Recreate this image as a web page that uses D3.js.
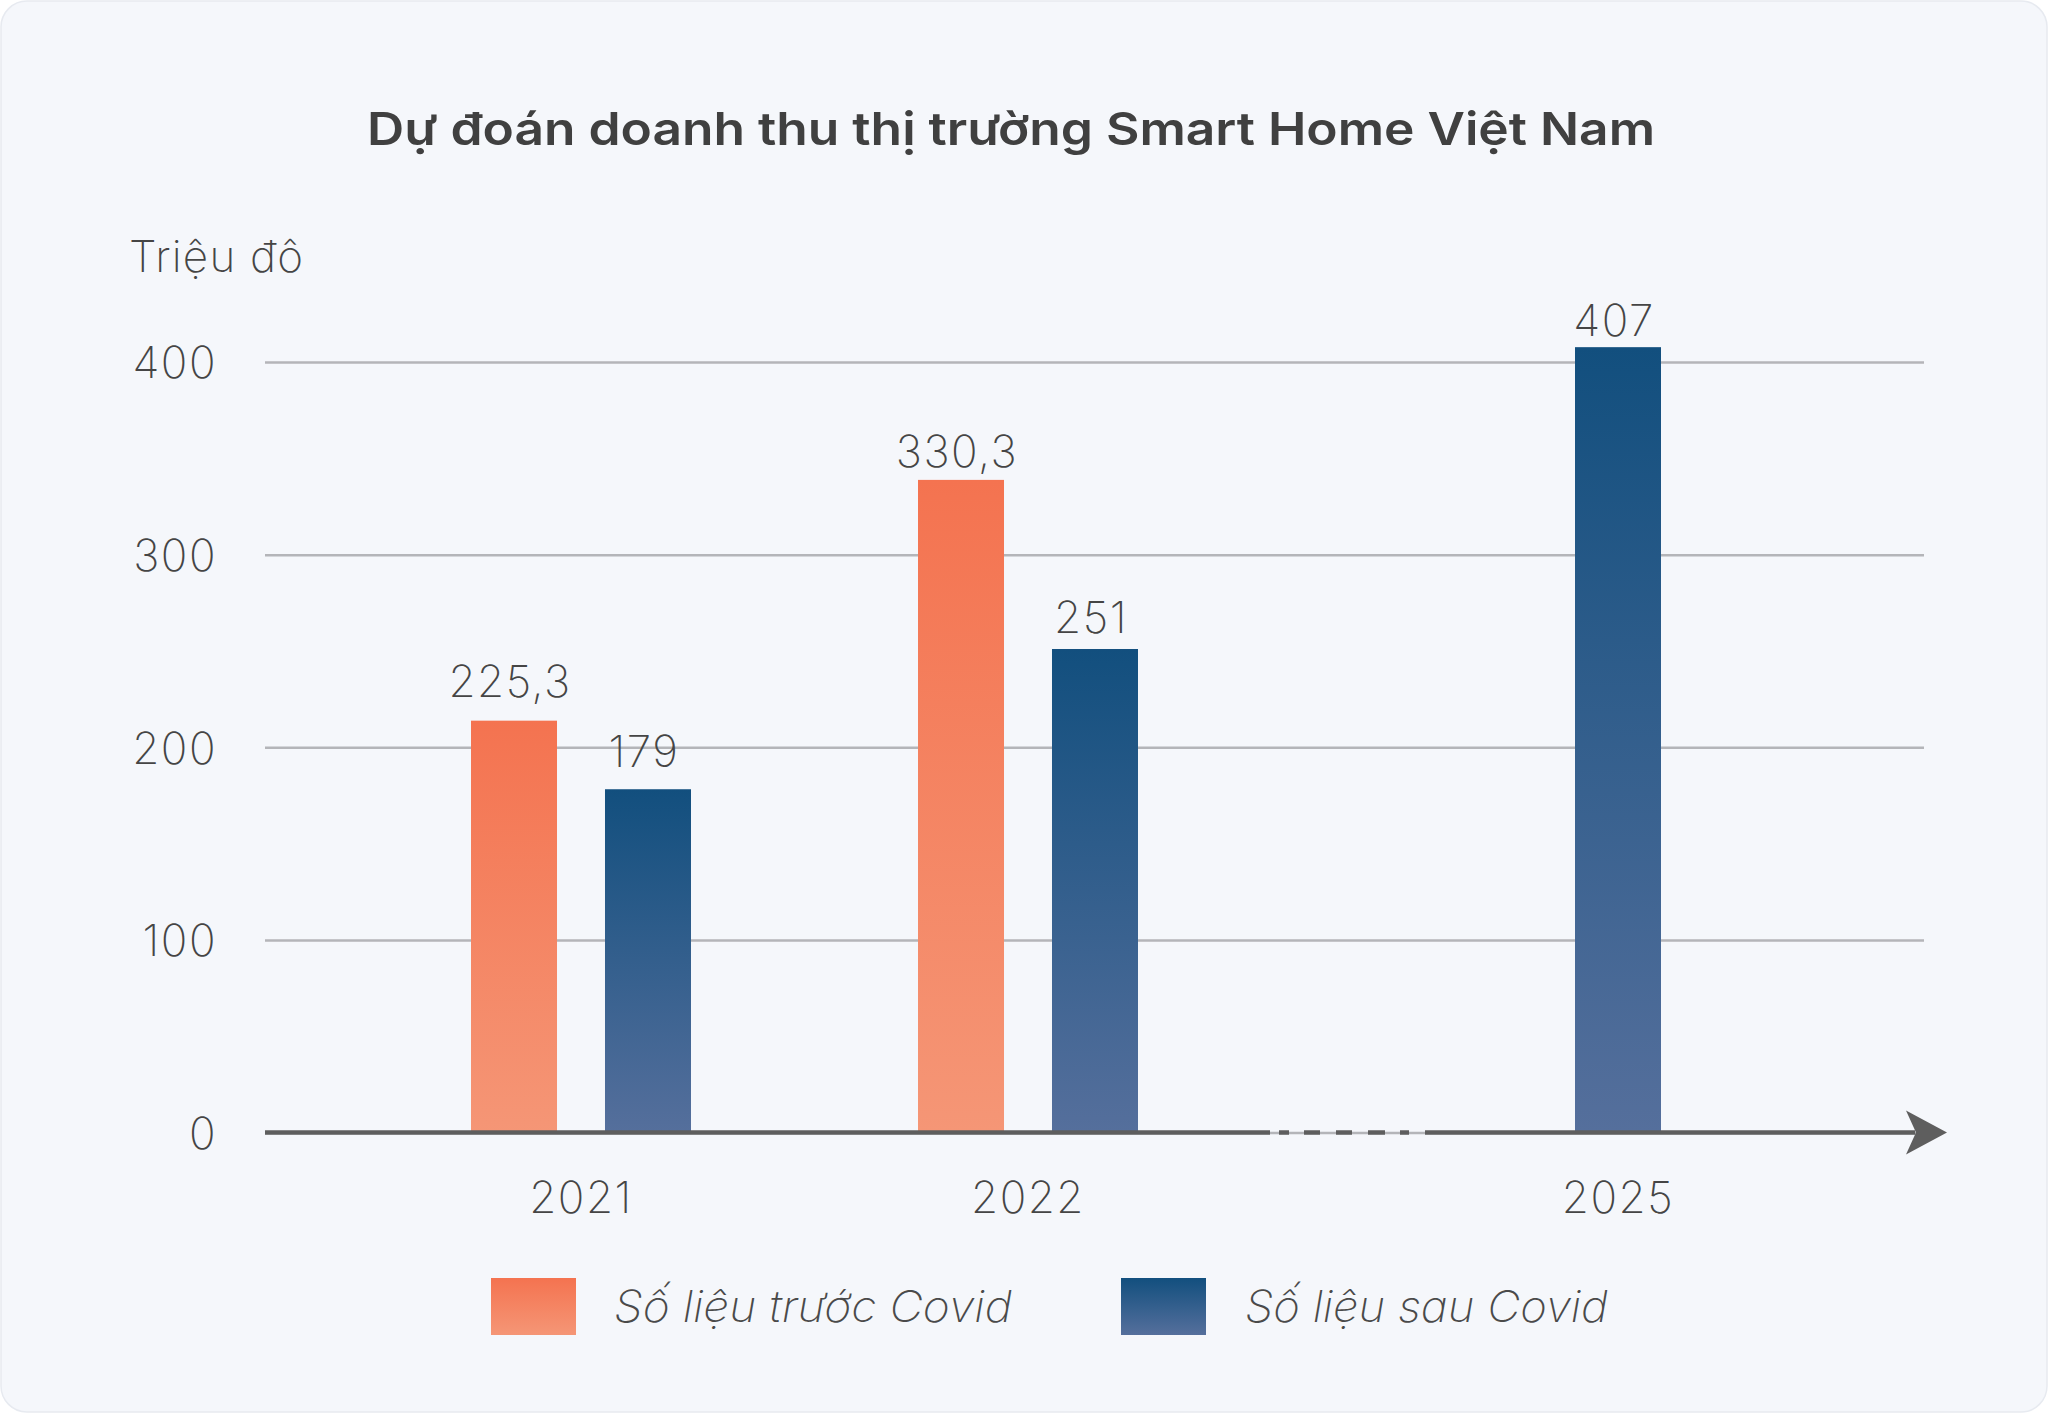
<!DOCTYPE html>
<html>
<head>
<meta charset="utf-8">
<script src="https://cdn.jsdelivr.net/npm/d3@7"></script>
<style>
  html, body { margin: 0; padding: 0; background: #ffffff; }
  svg { display: block; }
</style>
</head>
<body>
<svg id="chart" width="2048" height="1413"></svg>
<script>
// ---- data ----
const years = [2021, 2022, 2025];
const yearLabels = ["2021", "2022", "2025"];
const seriesNames = ["Số liệu trước Covid", "Số liệu sau Covid"];
// bar heights as drawn in the picture (Triệu đô)
const beforeValues = [213.8, 338.8, null];
const afterValues = [178.2, 251, 407.7];
// printed value labels
const beforeLabels = ["225,3", "330,3", null];
const afterLabels = ["179", "251", "407"];
const yTicks = [0, 100, 200, 300, 400];
const titleText = "Dự đoán doanh thu thị trường Smart Home Việt Nam";
const yAxisTitle = "Triệu đô";

// ---- layout ----
const W = 2048, H = 1413;
const plotLeft = 265, plotRight = 1924;
const yZero = 1132.5, yTop = 362;
const barW = 86;
const font = "Inter, 'Open Sans', sans-serif";
const textColor = "#454545";
const lightW = 200;
const labelNudge = [[-24, -13], [-22, -16, -11]];

const svg = d3.select("#chart");

// card background
svg.append("rect")
  .attr("x", 1).attr("y", 1).attr("width", W - 2).attr("height", H - 2)
  .attr("rx", 26).attr("ry", 26)
  .attr("fill", "#f5f7fb").attr("stroke", "#e7eaf0").attr("stroke-width", 1.5);

// gradients
const defs = svg.append("defs");
function grad(id, top, bottom) {
  const g = defs.append("linearGradient").attr("id", id)
    .attr("x1", 0).attr("y1", 0).attr("x2", 0).attr("y2", 1);
  g.append("stop").attr("offset", "0%").attr("stop-color", top);
  g.append("stop").attr("offset", "100%").attr("stop-color", bottom);
}
grad("gOrange", "#f47350", "#f59676");
grad("gBlue", "#124f7e", "#556f9c");

// scales
const y = d3.scaleLinear().domain([0, 400]).range([yZero, yTop]);
const x = d3.scaleLinear().domain([2021, 2022, 2025]).range([581, 1028, 1618]);
const sub = d3.scaleBand().domain([0, 1]).range([-110, 110]).paddingInner(0.358);

// gridlines + y tick labels via axis
const yAxis = d3.axisLeft(y).tickValues(yTicks)
  .tickSize(-(plotRight - plotLeft)).tickPadding(48)
  .tickFormat(d3.format("d"));
const gy = svg.append("g").attr("transform", `translate(${plotLeft},0)`).call(yAxis);
gy.select(".domain").remove();
gy.selectAll(".tick line").attr("stroke", "#b4b5b9").attr("stroke-width", 2.5);
gy.selectAll(".tick text")
  .attr("fill", textColor).attr("font-family", font).attr("font-weight", lightW)
  .attr("font-size", 44).attr("letter-spacing", 1.5).attr("dy", "0.36em");

// y title
svg.append("text").attr("x", 129).attr("y", 272)
  .attr("font-family", font).attr("font-weight", lightW).attr("font-size", 44)
  .attr("fill", textColor).attr("textLength", 174).attr("lengthAdjust", "spacing")
  .text(yAxisTitle);

// bars
const rows = [];
years.forEach((yr, i) => {
  const present = [beforeValues[i], afterValues[i]].filter(v => v != null).length;
  [[beforeValues, beforeLabels, "gOrange", 0], [afterValues, afterLabels, "gBlue", 1]].forEach(([vals, labs, g, s]) => {
    if (vals[i] == null) return;
    const cx = present === 1 ? x(yr) : x(yr) + sub(s) + sub.bandwidth() / 2;
    rows.push({ yr, v: vals[i], label: labs[i], g, s, cx, i });
  });
});

svg.append("g").selectAll("rect").data(rows).join("rect")
  .attr("x", d => d.cx - barW / 2)
  .attr("y", d => y(d.v))
  .attr("width", barW)
  .attr("height", d => y(0) - y(d.v))
  .attr("fill", d => `url(#${d.g})`);

// value labels
svg.append("g").selectAll("text").data(rows).join("text")
  .attr("x", d => d.cx - 4)
  .attr("y", d => y(d.v) + labelNudge[d.s][d.i])
  .attr("text-anchor", "middle")
  .attr("font-family", font).attr("font-weight", lightW).attr("font-size", 44)
  .attr("letter-spacing", 1.5)
  .attr("fill", textColor).text(d => d.label);

// baseline with break and arrow
const axisColor = "#5e5e5e";
const segs = [[plotLeft, 1270], [1279, 1289], [1304, 1320], [1336, 1352], [1368, 1385], [1400, 1409], [1425, 1915]];
svg.append("g").selectAll("line").data(segs).join("line")
  .attr("x1", d => d[0]).attr("x2", d => d[1])
  .attr("y1", yZero).attr("y2", yZero)
  .attr("stroke", axisColor).attr("stroke-width", 4.5);
svg.append("path")
  .attr("d", `M1947,${yZero} L1906,${yZero - 22} L1916,${yZero} L1906,${yZero + 22} Z`)
  .attr("fill", axisColor);

// x labels
svg.append("g").selectAll("text").data(years).join("text")
  .attr("x", d => x(d)).attr("y", 1213)
  .attr("text-anchor", "middle")
  .attr("font-family", font).attr("font-weight", lightW).attr("font-size", 44)
  .attr("letter-spacing", 1.5)
  .attr("fill", textColor).text((d, i) => yearLabels[i]);

// title
const t = svg.append("text").attr("x", 1011).attr("y", 145)
  .attr("text-anchor", "middle")
  .attr("font-family", font).attr("font-weight", 600).attr("font-size", 45)
  .attr("fill", "#404040").text(titleText);
t.attr("textLength", 1288).attr("lengthAdjust", "spacingAndGlyphs");

// legend
const legend = [
  { name: seriesNames[0], g: "gOrange", sx: 491, tx: 614, tw: 398 },
  { name: seriesNames[1], g: "gBlue", sx: 1121, tx: 1245, tw: 363 }
];
const lg = svg.append("g");
lg.selectAll("rect").data(legend).join("rect")
  .attr("x", d => d.sx).attr("y", 1278).attr("width", 85).attr("height", 57)
  .attr("fill", d => `url(#${d.g})`);
lg.selectAll("text").data(legend).join("text")
  .attr("x", d => d.tx).attr("y", 1322)
  .attr("font-family", font).attr("font-weight", lightW).attr("font-style", "italic")
  .attr("font-size", 44).attr("fill", "#4a4a4a")
  .attr("textLength", d => d.tw).attr("lengthAdjust", "spacingAndGlyphs")
  .text(d => d.name);
</script>
</body>
</html>
